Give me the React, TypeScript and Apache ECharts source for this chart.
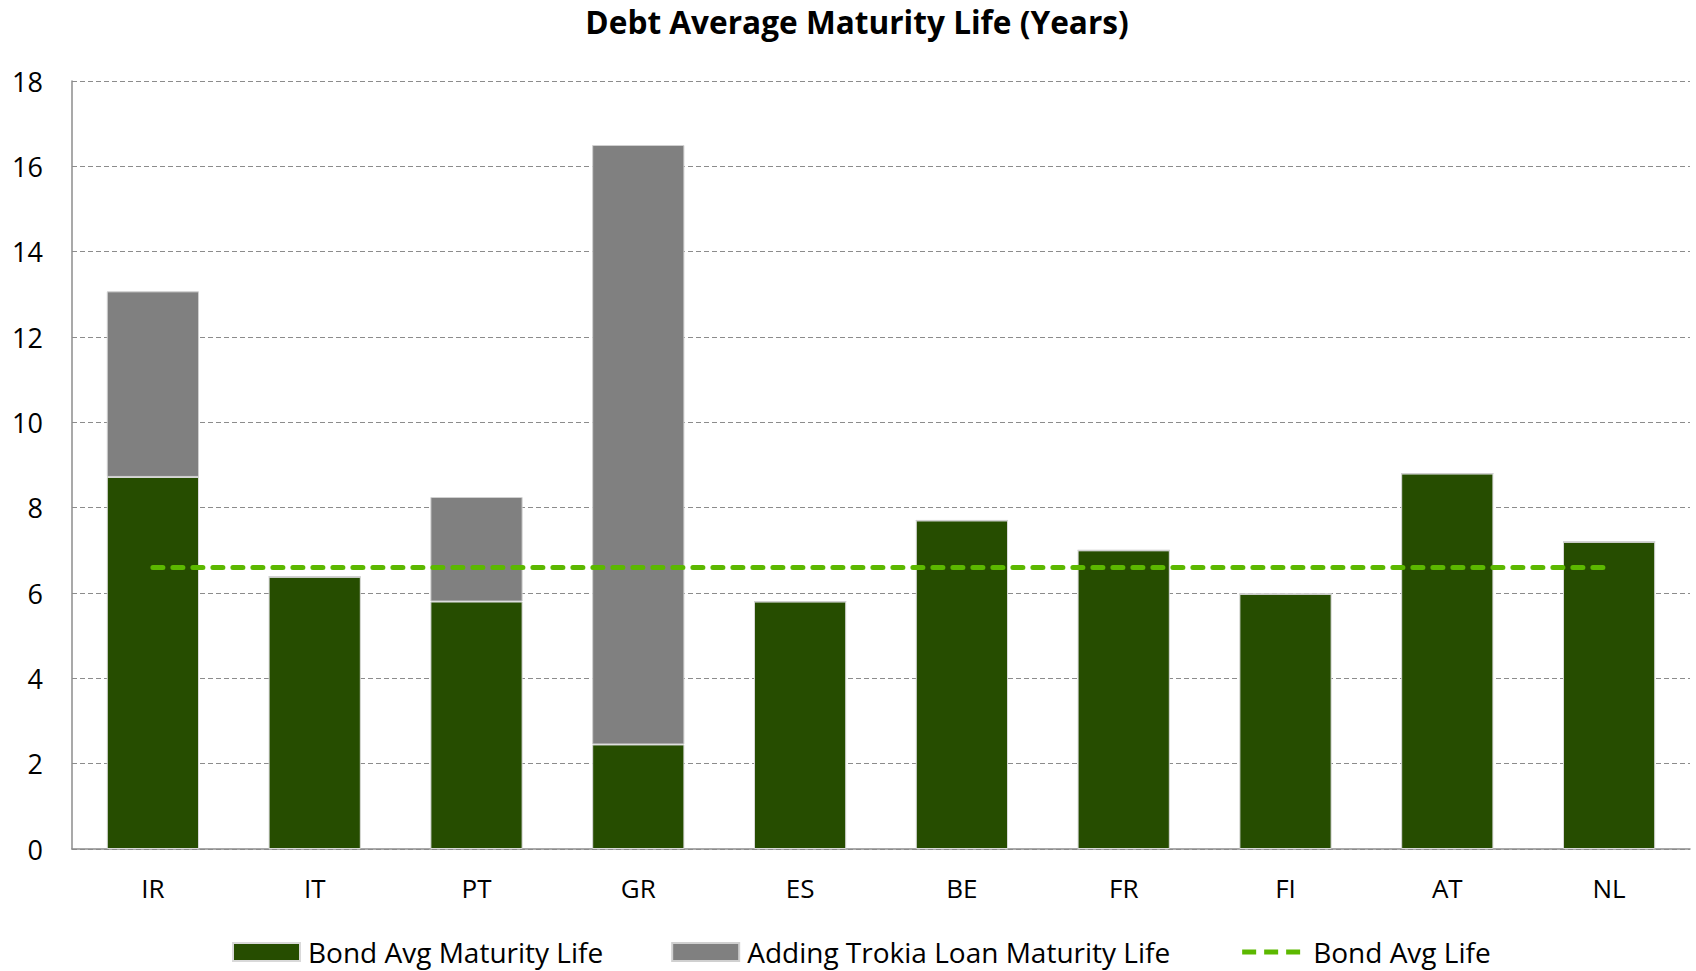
import React, { useEffect, useRef } from "react";
import * as echarts from "echarts";

const categories = ["IR", "IT", "PT", "GR", "ES", "BE", "FR", "FI", "AT", "NL"];
const bondAvgMaturity = [8.72, 6.38, 5.8, 2.45, 5.8, 7.7, 7.0, 5.98, 8.8, 7.2];
const troikaLoanAddition = [4.35, 0, 2.45, 14.05, 0, 0, 0, 0, 0, 0];
const bondAvgLife = [6.6, 6.6, 6.6, 6.6, 6.6, 6.6, 6.6, 6.6, 6.6, 6.6];
const yTicks = [0, 2, 4, 6, 8, 10, 12, 14, 16, 18];

const FONT = "'Open Sans', 'DejaVu Sans', sans-serif";
const DASH_ICON =
  "path://M0,0h0.01v0.01h-0.01z M67,18h0.01v0.01h-0.01z M4,6.5h14v5h-14z M26,6.5h14v5h-14z M48,6.5h14v5h-14z";

export default function App() {
  const ref = useRef<HTMLDivElement>(null);
  useEffect(() => {
    document.body.style.margin = "0";
    const chart = echarts.init(ref.current!, null, { renderer: "svg" });
    chart.setOption({
      animation: false,
      backgroundColor: "#ffffff",
      title: {
        text: "Debt Average Maturity Life (Years)",
        left: 852,
        textAlign: "center",
        top: 0,
        textStyle: { fontFamily: FONT, fontSize: 31.6, fontWeight: "bold", color: "#000" },
      },
      legend: {
        bottom: 0,
        left: 227,
        itemWidth: 67,
        itemHeight: 18,
        itemGap: 68,
        textStyle: { fontFamily: FONT, fontSize: 28, color: "#000", padding: [0, 0, 0, 3] },
        data: [
          { name: "Bond Avg Maturity Life", icon: "rect" },
          { name: "Adding Trokia Loan Maturity Life", icon: "rect" },
          { name: "Bond Avg Life", icon: DASH_ICON, itemStyle: { color: "#5cb800" } },
        ],
      },
      grid: { left: 72, right: 6, top: 81, bottom: 122 },
      xAxis: {
        type: "category",
        data: categories,
        axisLine: { lineStyle: { color: "#8c8c8c", width: 1.5 } },
        axisTick: { show: false },
        axisLabel: { fontFamily: FONT, fontSize: 26, color: "#000", margin: 26 },
      },
      yAxis: {
        type: "value",
        min: yTicks[0],
        max: yTicks[yTicks.length - 1],
        interval: 2,
        axisLine: { show: true, lineStyle: { color: "#8c8c8c", width: 1.5 } },
        axisTick: { show: false },
        axisLabel: { fontFamily: FONT, fontSize: 27, color: "#000", margin: 29 },
        splitLine: { lineStyle: { color: "#8c8c8c", type: [5, 3], width: 1.2 } },
      },
      series: [
        {
          name: "Bond Avg Maturity Life",
          type: "bar",
          stack: "total",
          barWidth: "57%",
          data: bondAvgMaturity,
          itemStyle: { color: "#264d00", borderColor: "#d9d9d9", borderWidth: 1 },
        },
        {
          name: "Adding Trokia Loan Maturity Life",
          type: "bar",
          stack: "total",
          barWidth: "57%",
          data: troikaLoanAddition,
          itemStyle: { color: "#808080", borderColor: "#d0d0d0", borderWidth: 1 },
        },
        {
          name: "Bond Avg Life",
          type: "line",
          data: bondAvgLife,
          symbol: "none",
          itemStyle: { color: "#5cb800" },
          lineStyle: { color: "#5cb800", width: 5, type: [10, 10], cap: "round" },
          z: 5,
        },
      ],
    });
    return () => chart.dispose();
  }, []);
  return <div ref={ref} style={{ width: 1696, height: 971 }} />;
}
